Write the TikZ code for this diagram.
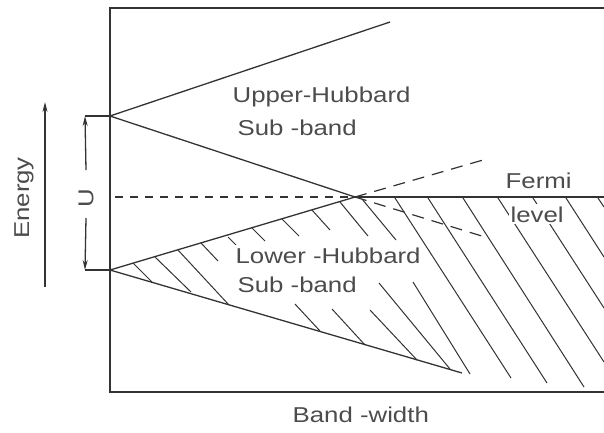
\documentclass[tikz,border=0pt]{standalone}
\usepackage{fontspec}
\newfontfamily\figfont{Liberation Sans}[FakeStretch=1.2]
\usetikzlibrary{arrows.meta}
\begin{document}
\begin{tikzpicture}[x=1pt, y=-1pt, color=black!80, line width=1.3pt,
  every node/.style={font=\figfont\fontsize{21.5}{24}\selectfont, text=black!70, inner sep=0pt},
  hatch/.style={line width=1pt},
  fermi/.style={line width=1.2pt, dash pattern=on 8pt off 7pt},
  split/.style={line width=1.2pt, dash pattern=on 12pt off 8pt},
  tip/.style={-{Stealth[length=10pt,width=5pt]}},
  gap/.style={fill=white, inner sep=2pt}]
  \useasboundingbox (0,0) rectangle (604,432);
  \draw (604,8) -- (110,8) -- (110,392) -- (604,392);
  \coordinate (ub) at (110,116);
  \coordinate (lb) at (110,270);
  \coordinate (fp) at (355,197);
  \coordinate (ue) at (390,22);
  \coordinate (le) at (462,373);
  \coordinate (fr) at (604,197);
  \coordinate (fl) at (115,197);
  \coordinate (du) at (483,160);
  \coordinate (dd) at (485,237);
  \foreach \xa/\ya/\xb/\yb in {133/263/152/282, 155/257/191/292, 178/250/229/305,
      201/243/218/261, 228/237/236/245, 252/228/265/241, 282/219/299/236,
      312/210/330/230, 340/202/368/236, 295/304/320/331, 332/309/365/345,
      370/310/417/360, 379/283/450/369, 413/282/470/374, 362/199/396/240,
      395/198/511/378, 428/198/547/383, 463/198/584/387, 498/198/604/362,
      533/198/604/308, 566/198/604/257, 598/198/604/207}
    \draw[hatch] (\xa,\ya) -- (\xb,\yb);
  \draw (ub) -- (ue);
  \draw (ub) -- (fp);
  \draw (lb) -- (fp);
  \draw (lb) -- (le);
  \draw (fp) -- (fr);
  \draw[fermi] (fl) -- (fp);
  \draw[split] (fp) -- (du);
  \draw[split] (fp) -- (dd);
  \node[anchor=base west] (uhub) at (232,102) {Upper-Hubbard};
  \node[anchor=base west] (usub) at (237,135) {Sub -band};
  \node[anchor=base west, gap] (lhub) at (233,263) {Lower -Hubbard};
  \node[anchor=base west, gap] (lsub) at (235,292) {Sub -band};
  \node[anchor=base west] (fermi) at (505,188) {Fermi};
  \node[anchor=base west, gap] (level) at (508,222) {level};
  \node[anchor=base west] (width) at (292,422) {Band -width};
  \node[rotate=90] (energy) at (24,198) {Energy};
  \coordinate (e0) at (45,287);
  \coordinate (e1) at (45,102);
  \draw[tip] (e0) -- (e1);
  \coordinate (ut) at (85,116);
  \coordinate (ul) at (85,270);
  \draw (ut) -- (ub);
  \draw (ul) -- (lb);
  \node[rotate=90] (ulab) at (86,198) {U};
  \coordinate (ua) at (86,170);
  \coordinate (ud) at (86,218);
  \draw[tip] (ua) -- (ut);
  \draw[tip] (ud) -- (ul);
\end{tikzpicture}
\end{document}
